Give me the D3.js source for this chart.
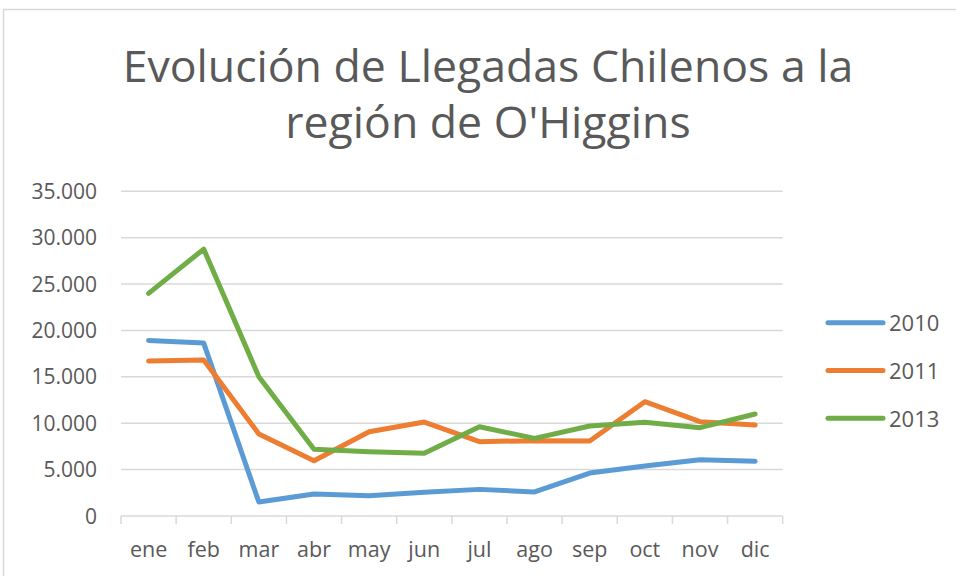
<!doctype html>
<html>
<head>
<meta charset="utf-8">
<style>
  body { margin: 0; background: #fff; }
  svg text { font-family: "Open Sans", "DejaVu Sans", sans-serif; fill: #595959; }
</style>
<script src="https://d3js.org/d3.v7.min.js"></script>
</head>
<body>
<svg id="chart" width="956" height="576"></svg>
<script>
// data
var months = ["ene", "feb", "mar", "abr", "may", "jun", "jul", "ago", "sep", "oct", "nov", "dic"];
var seriesNames = ["2010", "2011", "2013"];
var values2010 = [18930, 18640, 1510, 2370, 2190, 2550, 2870, 2590, 4630, 5390, 6070, 5890];
var values2011 = [16700, 16810, 8840, 5960, 9090, 10130, 8010, 8120, 8080, 12320, 10170, 9810];
var values2013 = [24000, 28770, 15010, 7190, 6930, 6760, 9620, 8370, 9700, 10100, 9520, 10990];
var yTicks = [0, 5000, 10000, 15000, 20000, 25000, 30000, 35000];
var colors = ["#5B9BD5", "#ED7D31", "#70AD47"];

var series = [values2010, values2011, values2013];

var svg = d3.select("#chart");

// outer chart border (runs off the right and bottom edge)
svg.append("rect")
   .attr("x", 3.5).attr("y", 9.5)
   .attr("width", 1000).attr("height", 1000)
   .attr("fill", "none")
   .attr("stroke", "#d9d9d9")
   .attr("stroke-width", 1.5);

// title
var title = svg.append("text")
   .attr("text-anchor", "middle")
   .attr("font-size", "44.6px");
title.append("tspan").attr("x", 488).attr("y", 82).text("Evolución de Llegadas Chilenos a la");
title.append("tspan").attr("x", 488).attr("y", 138).text("región de O'Higgins");

var plotLeft = 121, plotRight = 782.7, plotTop = 191.3, plotBottom = 516;

var x = d3.scaleBand().domain(months).range([plotLeft, plotRight]);
var y = d3.scaleLinear().domain([0, 35000]).range([plotBottom, plotTop]);

// gridlines
svg.append("g")
   .selectAll("line")
   .data(yTicks.filter(function(d) { return d > 0; }))
   .enter().append("line")
   .attr("x1", plotLeft).attr("x2", plotRight)
   .attr("y1", function(d) { return y(d); })
   .attr("y2", function(d) { return y(d); })
   .attr("stroke", "#d9d9d9")
   .attr("stroke-width", 1.5);

// y axis labels
var fmt = function(d) { return d3.format(",")(d).replace(/,/g, "."); };
svg.append("g")
   .selectAll("text")
   .data(yTicks)
   .enter().append("text")
   .attr("x", 97)
   .attr("y", function(d) { return y(d) + 7.5; })
   .attr("text-anchor", "end")
   .attr("font-size", "21px")
   .text(fmt);

// x axis with ticks between categories
var xAxis = svg.append("g");
xAxis.append("line")
   .attr("x1", plotLeft).attr("x2", plotRight)
   .attr("y1", plotBottom).attr("y2", plotBottom)
   .attr("stroke", "#d9d9d9").attr("stroke-width", 1.5);
var bounds = months.map(function(m) { return x(m); }).concat([plotRight]);
xAxis.selectAll(".tk")
   .data(bounds)
   .enter().append("line")
   .attr("x1", function(d) { return d; }).attr("x2", function(d) { return d; })
   .attr("y1", plotBottom).attr("y2", plotBottom + 8)
   .attr("stroke", "#d9d9d9").attr("stroke-width", 1.5);
xAxis.selectAll("text")
   .data(months)
   .enter().append("text")
   .attr("x", function(d) { return x(d) + x.bandwidth() / 2; })
   .attr("y", 557)
   .attr("text-anchor", "middle")
   .attr("font-size", "21.5px")
   .text(function(d) { return d; });

// lines
var line = d3.line()
   .x(function(d, i) { return x(months[i]) + x.bandwidth() / 2; })
   .y(function(d) { return y(d); });

svg.append("g")
   .selectAll("path")
   .data(series)
   .enter().append("path")
   .attr("d", line)
   .attr("fill", "none")
   .attr("stroke", function(d, i) { return colors[i]; })
   .attr("stroke-width", 5)
   .attr("stroke-linejoin", "round")
   .attr("stroke-linecap", "round");

// legend
var legend = svg.append("g")
   .selectAll("g")
   .data(seriesNames)
   .enter().append("g")
   .attr("transform", function(d, i) { return "translate(0," + (322.7 + i * 47.8) + ")"; });
legend.append("line")
   .attr("x1", 828).attr("x2", 883)
   .attr("y1", 0).attr("y2", 0)
   .attr("stroke", function(d, i) { return colors[i]; })
   .attr("stroke-width", 5)
   .attr("stroke-linecap", "round");
legend.append("text")
   .attr("x", 889)
   .attr("y", 8.5)
   .attr("font-size", "22px")
   .text(function(d) { return d; });
</script>
</body>
</html>
